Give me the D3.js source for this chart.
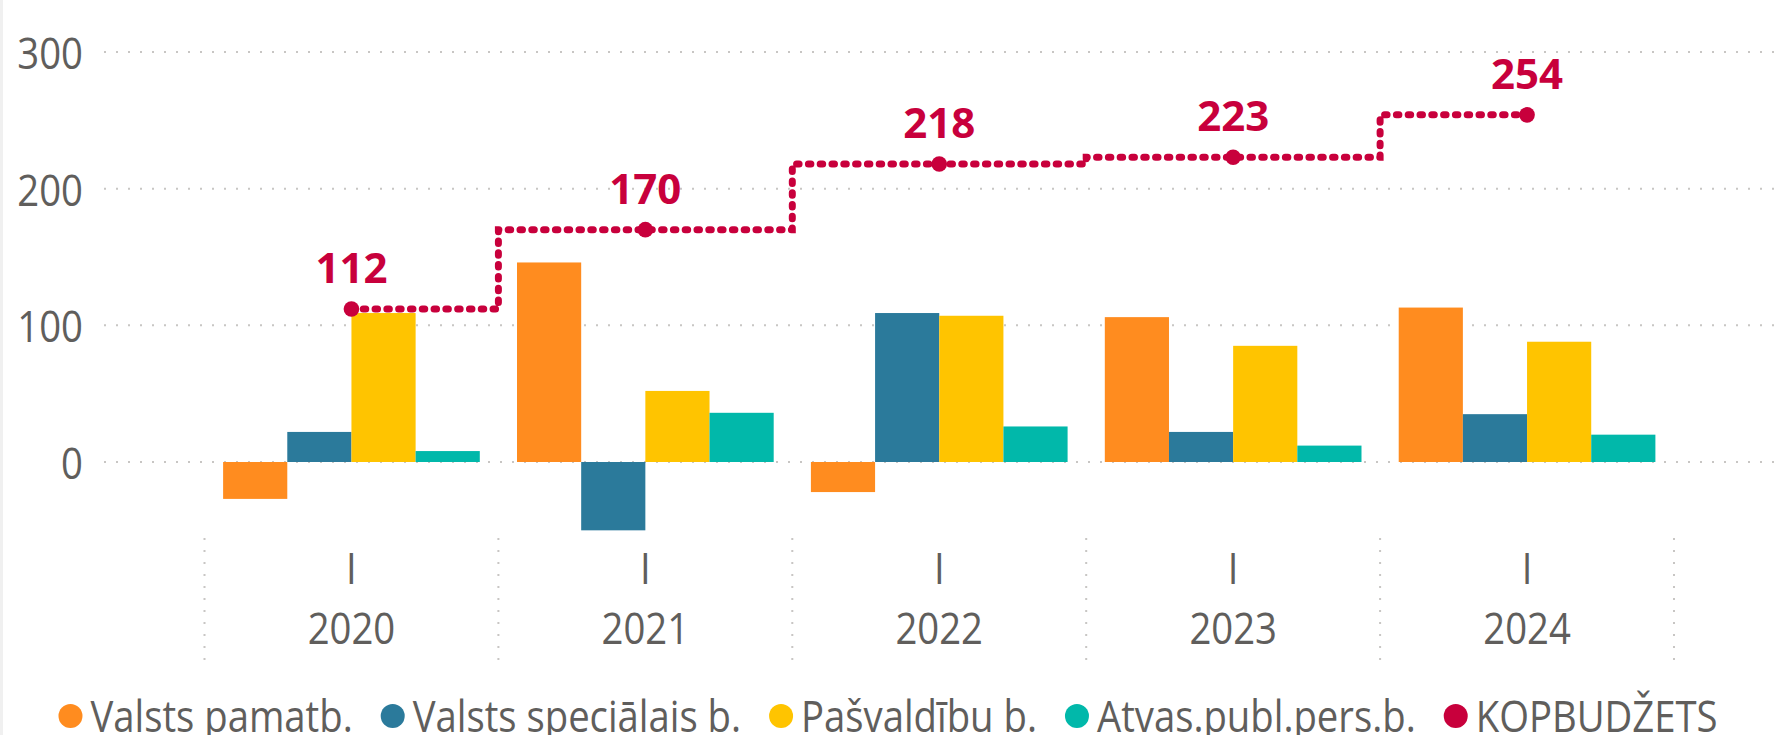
<!DOCTYPE html>
<html>
<head>
<meta charset="utf-8">
<script src="https://cdn.jsdelivr.net/npm/d3@7"></script>
<style>
  html, body { margin: 0; padding: 0; background: #fff; }
  svg { display: block; }
  text { font-family: "Segoe UI", "Open Sans", sans-serif; fill: #605E5C; }
</style>
</head>
<body>
<div id="chart"></div>
<script>
// data
var years = ["2020", "2021", "2022", "2023", "2024"],
    quarterLabel = "I",
    seriesNames = ["Valsts pamatb.", "Valsts speciālais b.", "Pašvaldību b.", "Atvas.publ.pers.b."],
    totalName = "KOPBUDŽETS";

var valstsPamatb   = [-27, 146, -22, 106, 113],
    valstsSpecialais = [22, -50, 109, 22, 35],
    pasvaldibu     = [109, 52, 107, 85, 88],
    atvasPubl      = [8, 36, 26, 12, 20],
    kopbudzets     = [112, 170, 218, 223, 254];

var yTicks = [0, 100, 200, 300];

var colors = ["#FF8C1F", "#2B7A9B", "#FFC400", "#01B8AA"],
    totalColor = "#C8003C";

var width = 1776, height = 735,
    sx = 0.87; // reference text is a bit narrow

var seriesValues = [valstsPamatb, valstsSpecialais, pasvaldibu, atvasPubl];

var svg = d3.select("#chart").append("svg")
    .attr("width", width)
    .attr("height", height);

svg.append("rect")
    .attr("x", 0).attr("y", 0)
    .attr("width", 3).attr("height", height)
    .attr("fill", "#F0F0F0");

var y = d3.scaleLinear().domain([0, 300]).range([462, 52]);

var x0 = d3.scaleBand()
    .domain(years)
    .range([204.5, 1674])
    .padding(0);

var x1 = d3.scaleBand()
    .domain(d3.range(seriesNames.length))
    .range([0, x0.bandwidth()])
    .paddingInner(0)
    .paddingOuter(0.29);

function condensedText(sel, x, yy, str, size, weight, anchor) {
    return sel.append("text")
        .attr("transform", "translate(" + x + "," + yy + ") scale(" + sx + ",1)")
        .attr("text-anchor", anchor || "middle")
        .attr("dominant-baseline", "central")
        .style("font-size", size + "px")
        .style("font-weight", weight || 400)
        .text(str);
}

// gridlines + y labels
var grid = svg.append("g");
yTicks.forEach(function(t) {
    grid.append("line")
        .attr("x1", 104).attr("x2", width)
        .attr("y1", y(t)).attr("y2", y(t))
        .attr("stroke", "#C8C6C4")
        .attr("stroke-width", 2)
        .attr("stroke-dasharray", "2,10");
    condensedText(grid, 83, y(t), t, 44, 400, "end");
});

// category separators
var sepX = years.map(function(d) { return x0(d); }).concat([x0.range()[1]]);
sepX.forEach(function(sx0) {
    svg.append("line")
        .attr("x1", sx0).attr("x2", sx0)
        .attr("y1", 538).attr("y2", 664)
        .attr("stroke", "#C8C6C4")
        .attr("stroke-width", 2)
        .attr("stroke-dasharray", "2,10");
});

// x labels
years.forEach(function(yr) {
    var cx = x0(yr) + x0.bandwidth() / 2;
    condensedText(svg, cx, 567, quarterLabel, 44);
    condensedText(svg, cx, 627, yr, 44);
});

// bars
var barData = [];
years.forEach(function(yr, i) {
    seriesValues.forEach(function(arr, k) {
        barData.push({year: yr, k: k, val: arr[i]});
    });
});

svg.append("g")
    .selectAll("rect")
    .data(barData)
    .join("rect")
    .attr("x", d => x0(d.year) + x1(d.k))
    .attr("width", x1.bandwidth())
    .attr("y", d => y(Math.max(0, d.val)))
    .attr("height", d => Math.abs(y(d.val) - y(0)))
    .attr("fill", d => colors[d.k]);

// total step line
var lineData = years.map(function(yr, i) { return {year: yr, val: kopbudzets[i]}; });

var line = d3.line()
    .curve(d3.curveStep)
    .x(d => x0(d.year) + x0.bandwidth() / 2)
    .y(d => y(d.val));

svg.append("path")
    .datum(lineData)
    .attr("d", line)
    .attr("fill", "none")
    .attr("stroke", totalColor)
    .attr("stroke-width", 7)
    .attr("stroke-linecap", "round")
    .attr("stroke-dasharray", "2.5,9.3");

svg.append("g")
    .selectAll("circle")
    .data(lineData)
    .join("circle")
    .attr("cx", d => x0(d.year) + x0.bandwidth() / 2)
    .attr("cy", d => y(d.val))
    .attr("r", 7.8)
    .attr("fill", totalColor);

lineData.forEach(function(d) {
    svg.append("text")
        .attr("x", x0(d.year) + x0.bandwidth() / 2)
        .attr("y", y(d.val) - 26)
        .attr("text-anchor", "middle")
        .style("font-size", "42px")
        .style("font-weight", 700)
        .style("fill", totalColor)
        .text(d.val);
});

// legend
var legendItems = seriesNames.map(function(n, k) { return {name: n, color: colors[k]}; })
    .concat([{name: totalName, color: totalColor}]);

var legend = svg.append("g");
var lx = 0, legendY = 715;
legendItems.forEach(function(it) {
    legend.append("circle")
        .attr("cx", lx + 12).attr("cy", legendY + 1)
        .attr("r", 12)
        .attr("fill", it.color);
    var t = condensedText(legend, lx + 32, legendY, it.name, 44, 400, "start");
    var w = t.node().getComputedTextLength() * sx;
    lx += 32 + w + 28;
});
var legendW = lx - 28;
legend.attr("transform", "translate(" + ((width - legendW) / 2) + ",0)");
</script>
</body>
</html>
